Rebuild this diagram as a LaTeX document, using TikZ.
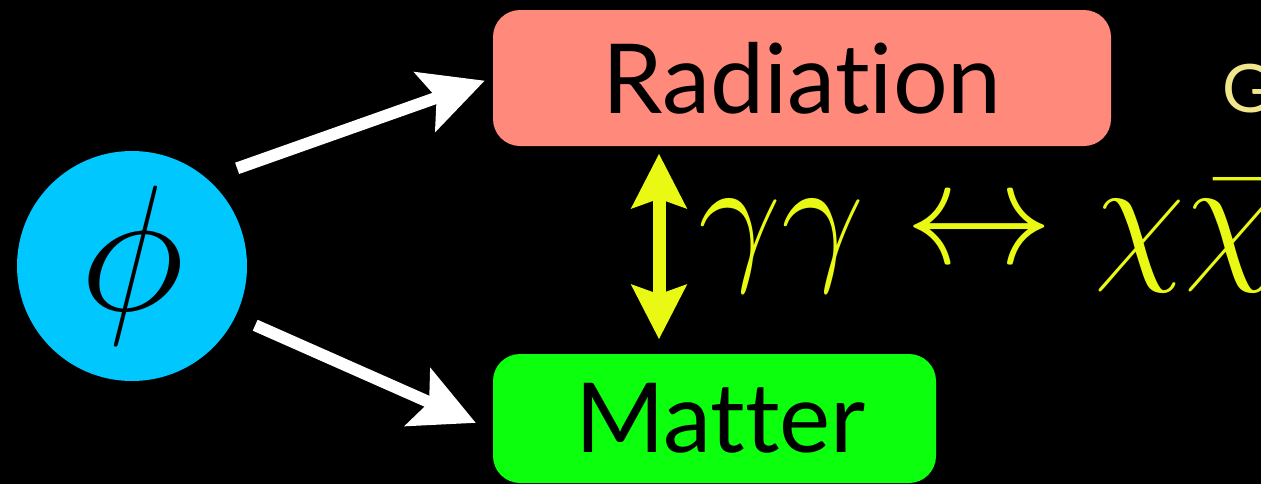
\RequirePackage{fix-cm}
\documentclass[tikz,border=0pt]{standalone}
\usepackage{fontspec}
\setmainfont{Lato}[Ligatures=NoCommon]
\usepackage{tikz}
\usetikzlibrary{arrows.meta}
\definecolor{sky}{HTML}{00C8FF}
\definecolor{salmon}{HTML}{FF8A7C}
\definecolor{limegreen}{HTML}{0CFF0C}
\definecolor{lemon}{HTML}{EAF914}
\definecolor{khaki}{HTML}{F0E68C}
\tikzset{
  flow/.style={-{Stealth[length=6.3mm,width=6.2mm,inset=1.2mm]},line width=3.4pt,draw=white},
  flowswap/.style={{Stealth[length=5.4mm,width=5.4mm,inset=0.9mm]}-{Stealth[length=5.4mm,width=5.4mm,inset=0.9mm]},line width=3.7pt,draw=lemon},
  card/.style={rounded corners=2.7mm,draw=none,text=black,inner sep=0pt,font=\fontsize{27.5}{33}\selectfont},
  field/.style={circle,fill=sky,inner sep=0pt,minimum size=23mm,text=black,font=\fontsize{51}{60}\selectfont},
}

\begin{document}
\begin{tikzpicture}[x=1cm,y=1cm]
  \path[use as bounding box,fill=black] (0,0) rectangle (12.61,4.84);
  \node[field] (phi) at (1.32,2.18) {$\phi$};
  \node[card,fill=salmon,minimum width=6.18cm,minimum height=1.36cm] (rad) at (8.02,4.06) {Radiation};
  \node[card,fill=limegreen,minimum width=4.43cm,minimum height=1.29cm] (mat) at (7.145,0.655) {\hspace*{1.2mm}Matter};
  \node[anchor=base west,text=lemon,inner sep=0pt,font=\fontsize{42}{50}\selectfont] (rxn) at (6.98,2.21) {$\gamma\gamma\leftrightarrow\chi\bar{\chi}$};
  \node[anchor=base west,text=khaki,inner sep=0pt,font=\fontsize{19}{23}\selectfont] (go) at (12.22,3.72) {Go};
  \coordinate (ax) at (6.59,0);
  \draw[flow,shorten <=3.1mm,shorten >=0.8mm] (phi.49) -- (rad.west);
  \draw[flow,shorten <=2.1mm,shorten >=1.8mm] (phi.-26) -- (mat.183);
  \draw[flowswap,shorten <=0.7mm,shorten >=1.4mm] (rad.south -| ax) -- (mat.north -| ax);
\end{tikzpicture}
\end{document}
